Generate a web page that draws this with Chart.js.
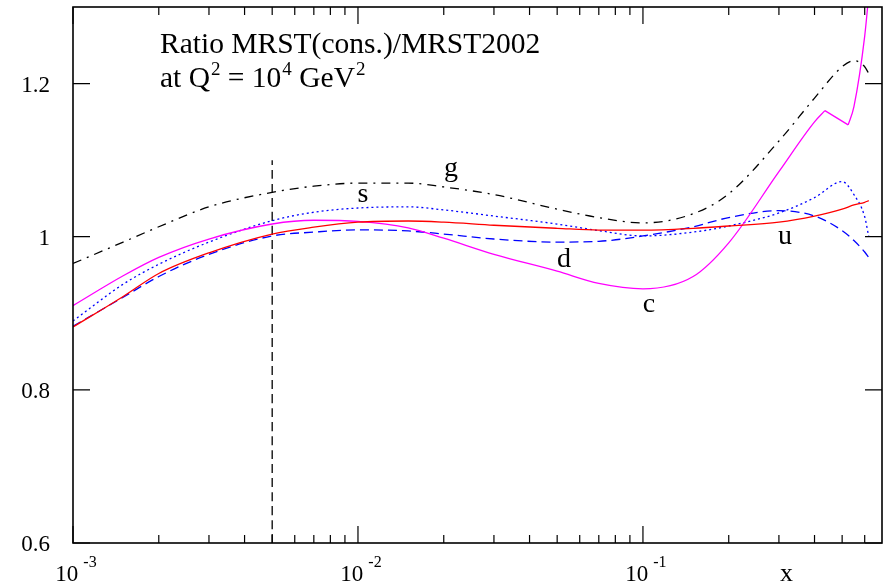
<!DOCTYPE html>
<html>
<head>
<meta charset="utf-8">
<script src="https://cdn.jsdelivr.net/npm/chart.js@4.4.0/dist/chart.umd.min.js"></script>
<style>
  body { margin: 0; background: #fff; }
  canvas { display: block; }
</style>
</head>
<body>
<canvas id="ratioChart" width="894" height="585"></canvas>
<script>
// x grid shared by g, s, d, u
const xValues = [0.001, 0.0015, 0.002, 0.003, 0.005, 0.007, 0.01, 0.015, 0.02, 0.03, 0.05, 0.07, 0.1, 0.15, 0.2, 0.3, 0.4, 0.5, 0.55, 0.6, 0.62];
const gluon   = [0.965, 0.993, 1.013, 1.039, 1.058, 1.066, 1.070, 1.070, 1.065, 1.055, 1.036, 1.025, 1.018, 1.030, 1.056, 1.125, 1.181, 1.222, 1.230, 1.222, 1.213];
const strange = [0.890, 0.938, 0.964, 0.993, 1.021, 1.032, 1.0375, 1.039, 1.035, 1.027, 1.0165, 1.008, 1.001, 1.006, 1.014, 1.031, 1.051, 1.072, 1.055, 1.026, 1.000];
const down    = [0.883, 0.921, 0.948, 0.977, 1.001, 1.006, 1.009, 1.0075, 1.0035, 0.997, 0.993, 0.994, 1.001, 1.013, 1.025, 1.034, 1.027, 1.008, 0.995, 0.980, 0.973];
const up      = [0.882, 0.922, 0.952, 0.979, 1.0035, 1.0125, 1.019, 1.0205, 1.019, 1.015, 1.011, 1.0087, 1.0087, 1.011, 1.014, 1.019, 1.027, 1.036, 1.0415, 1.045, 1.047];
// charm has its own x points, with a kink at x = 0.435 and a dip at 0.525
const charmX  = [0.001, 0.0015, 0.002, 0.003, 0.005, 0.007, 0.01, 0.015, 0.02, 0.03, 0.05, 0.07, 0.1, 0.15, 0.2, 0.3, 0.4, 0.435, 0.525, 0.55, 0.6, 0.625];
const charm   = [0.910, 0.949, 0.973, 0.997, 1.0166, 1.0215, 1.020, 1.0115, 0.998, 0.977, 0.955, 0.939, 0.932, 0.948, 0.992, 1.085, 1.150, 1.1646, 1.146, 1.170, 1.262, 1.33];
const charmKinks = [17, 18]; // indexes of the two corners

const cutX = 0.005;
const cutY = [0.6, 1.1];

const yTicks = [0.6, 0.8, 1.0, 1.2];
const yTickLabels = ["0.6", "0.8", "1", "1.2"];
const xDecades = [-3, -2, -1];

const curveLabels = [
    { text: "g", x: 0.0212, y: 1.0795 },
    { text: "s", x: 0.0104, y: 1.0454 },
    { text: "d", x: 0.0528, y: 0.9603 },
    { text: "c", x: 0.105,  y: 0.9013 },
    { text: "u", x: 0.315,  y: 0.9904 }
];

const SERIF = '"Liberation Serif", "DejaVu Serif", serif';

function pts(xs, ys) {
    return xs.map((x, i) => ({ x: x, y: ys[i] }));
}

function drawParts(ctx, x, y, parts, size, supSize, raise) {
    let cx = x;
    parts.forEach(p => {
        ctx.font = (p.sup ? supSize : size) + "px " + SERIF;
        ctx.fillText(p.t, cx, p.sup ? y - raise : y);
        cx += ctx.measureText(p.t).width + (p.gap || 0);
    });
}

function partsWidth(ctx, parts, size, supSize) {
    let w = 0;
    parts.forEach(p => {
        ctx.font = (p.sup ? supSize : size) + "px " + SERIF;
        w += ctx.measureText(p.t).width + (p.gap || 0);
    });
    return w;
}

const framePlugin = {
    id: "frame",
    afterDraw(chart) {
        const ctx = chart.ctx;
        const a = chart.chartArea;
        const xs = chart.scales.x, ys = chart.scales.y;
        ctx.save();
        ctx.strokeStyle = "#000";
        ctx.fillStyle = "#000";

        // box
        ctx.lineWidth = 1.6;
        ctx.strokeRect(a.left, a.top, a.right - a.left, a.bottom - a.top);

        // x ticks, bottom and top
        ctx.lineWidth = 1.2;
        for (let e = -3; e <= -1; e++) {
            for (let m = 1; m <= 9; m++) {
                const v = m * Math.pow(10, e);
                if (v < xs.min || v > xs.max) continue;
                const px = xs.getPixelForValue(v);
                const len = m === 1 ? 17 : 8;
                ctx.beginPath();
                ctx.moveTo(px, a.bottom); ctx.lineTo(px, a.bottom - len);
                ctx.moveTo(px, a.top); ctx.lineTo(px, a.top + len);
                ctx.stroke();
            }
        }
        // y ticks, left and right
        yTicks.forEach((v, i) => {
            const py = ys.getPixelForValue(v);
            ctx.beginPath();
            ctx.moveTo(a.left, py); ctx.lineTo(a.left + 17, py);
            ctx.moveTo(a.right, py); ctx.lineTo(a.right - 17, py);
            ctx.stroke();
            ctx.font = "23px " + SERIF;
            ctx.textAlign = "right";
            ctx.fillText(yTickLabels[i], 50, py + 8);
        });

        // x tick labels 10^n
        ctx.textAlign = "left";
        xDecades.forEach(e => {
            const px = xs.getPixelForValue(Math.pow(10, e));
            const parts = [{ t: "10", gap: 5 }, { t: String(e), sup: true }];
            const w = partsWidth(ctx, parts, 23, 16);
            drawParts(ctx, px - w / 2 + 3, 581, parts, 23, 16, 14);
        });
        ctx.font = "26px " + SERIF;
        ctx.fillText("x", 780, 581);

        // title
        ctx.font = "29.5px " + SERIF;
        ctx.fillText("Ratio MRST(cons.)/MRST2002", 160, 53);
        drawParts(ctx, 160, 87, [
            { t: "at Q", gap: 1 }, { t: "2", sup: true }, { t: " = 10", gap: 1 }, { t: "4", sup: true },
            { t: " GeV", gap: 1 }, { t: "2", sup: true }
        ], 29.5, 19, 12);

        // curve labels
        ctx.font = "28px " + SERIF;
        ctx.textAlign = "center";
        curveLabels.forEach(l => {
            ctx.fillText(l.text, xs.getPixelForValue(l.x), ys.getPixelForValue(l.y));
        });
        ctx.restore();
    }
};

function series(data, color, dash, mode) {
    return {
        data: data,
        borderColor: color,
        borderWidth: 1.3,
        borderDash: dash,
        pointRadius: 0,
        fill: false,
        cubicInterpolationMode: mode || "monotone"
    };
}

// charm split at its corners so the smooth parts stay smooth and the kink stays sharp
const charmPts = pts(charmX, charm);
const charmA = charmPts.slice(0, charmKinks[0] + 1);
const charmB = charmPts.slice(charmKinks[0], charmKinks[1] + 1);
const charmC = charmPts.slice(charmKinks[1]);

new Chart(document.getElementById("ratioChart"), {
    type: "line",
    data: {
        datasets: [
            series(pts(xValues, up), "#ff0000", []),
            series(charmA, "#ff00ff", []),
            series(charmB, "#ff00ff", [], "default"),
            series(charmC, "#ff00ff", []),
            series(pts(xValues, down), "#0000ff", [9, 5]),
            series(pts(xValues, strange), "#0000ff", [2, 3]),
            series(pts(xValues, gluon), "#000000", [9, 6, 2, 6]),
            series([{ x: cutX, y: cutY[0] }, { x: cutX, y: cutY[1] }], "#000000", [9, 5])
        ]
    },
    options: {
        responsive: false,
        animation: false,
        events: [],
        layout: { padding: { left: 73, top: 7, right: 12, bottom: 42 } },
        plugins: { legend: { display: false }, tooltip: { enabled: false } },
        scales: {
            x: { type: "logarithmic", min: 0.001, max: 0.69, display: false },
            y: { type: "linear", min: 0.6, max: 1.3, display: false }
        }
    },
    plugins: [framePlugin]
});
</script>
</body>
</html>
